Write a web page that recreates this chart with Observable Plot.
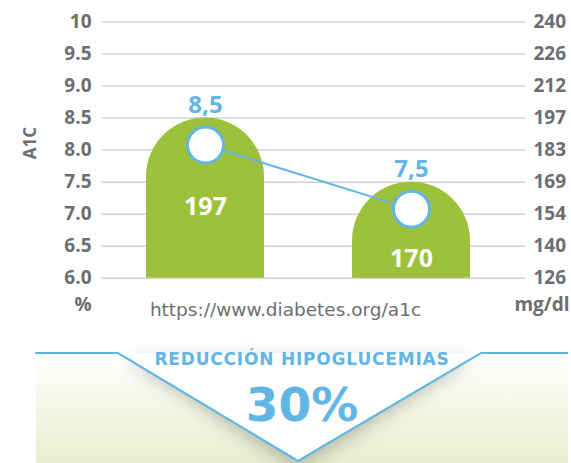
<!DOCTYPE html>
<html><head><meta charset="utf-8">
<script src="https://cdn.jsdelivr.net/npm/d3@7"></script>
<script src="https://cdn.jsdelivr.net/npm/@observablehq/plot@0.6"></script>
<style>
body{margin:0;background:#fff;}
#chart{width:571px;}
#chart svg{display:block;}
</style></head><body><div id="chart"></div>
<script>
// ---- data ----
const groups = ["antes", "después"];
const a1c = [8.5, 7.5];
const a1cLabels = ["8,5", "7,5"];
const mgValues = ["197", "170"];
const a1cTicks = [6.0, 6.5, 7.0, 7.5, 8.0, 8.5, 9.0, 9.5, 10];
const a1cTickLabels = ["6.0", "6.5", "7.0", "7.5", "8.0", "8.5", "9.0", "9.5", "10"];
const mgTickLabels = ["126", "140", "154", "169", "183", "197", "212", "226", "240"];
const leftUnit = "%";
const rightUnit = "mg/dl";
const leftTitle = "A1C";
const source = "https://www.diabetes.org/a1c";
const reductionTitle = "REDUCCIÓN HIPOGLUCEMIAS";
const reductionValue = "30%";

const data = groups.map((g, i) => ({group: g, a1c: a1c[i], label: a1cLabels[i], mg: mgValues[i]}));

const green = "#9dc13a", blue = "#62b6e5", gray = "#6d6e70";
const font = "'Open Sans', sans-serif";

const plot = Plot.plot({
  width: 571, height: 330,
  marginLeft: 102, marginRight: 46, marginTop: 21.5, marginBottom: 52.3,
  x: {domain: groups, paddingInner: 0.427, paddingOuter: 0.24, align: 0.444, axis: null},
  y: {domain: [6, 10], axis: null},
  style: {fontFamily: font, background: "white", overflow: "visible"},
  marks: [
    Plot.ruleY(a1cTicks, {stroke: "#d2d2d2", strokeWidth: 1.5}),
    Plot.axisY({ticks: a1cTicks, anchor: "left", tickSize: 0, tickPadding: 11, label: null,
      tickFormat: d => a1cTickLabels[a1cTicks.indexOf(d)], fontSize: 19, fontWeight: 700, fill: gray}),
    Plot.axisY({ticks: a1cTicks, anchor: "right", tickSize: 0, tickPadding: 8, label: null,
      tickFormat: d => mgTickLabels[a1cTicks.indexOf(d)], fontSize: 19, fontWeight: 700, fill: gray}),
    // rounded dome part
    Plot.barY(data, {x: "group", y1: d => d.a1c - 2, y2: "a1c", fill: green, rx: 59, clip: true}),
    // square lower part
    Plot.barY(data, {x: "group", y1: 6, y2: d => d.a1c - 1, fill: green}),
    Plot.line(data, {x: "group", y: "a1c", dy: 27, stroke: blue, strokeWidth: 2}),
    Plot.dot(data, {x: "group", y: "a1c", dy: 27, r: 18, fill: "white", stroke: blue, strokeWidth: 3}),
    Plot.text(data, {x: "group", y: "a1c", text: "label", dy: -13, fill: blue, fontSize: 24, fontWeight: 700}),
    Plot.text(data.slice(0, 1), {x: "group", y: "a1c", text: "mg", dy: 89, fill: "white", fontSize: 25, fontWeight: 700}),
    Plot.text(data.slice(1), {x: "group", y: "a1c", text: "mg", dy: 77, fill: "white", fontSize: 25, fontWeight: 700}),
    Plot.text([leftUnit], {text: d => d, frameAnchor: "bottom-left", lineAnchor: "middle", dx: -11, dy: 27, textAnchor: "end", fill: gray, fontSize: 19, fontWeight: 700}),
    Plot.text([rightUnit], {text: d => d, frameAnchor: "bottom-right", lineAnchor: "middle", dx: 44, dy: 27, textAnchor: "end", fill: gray, fontSize: 19, fontWeight: 700}),
    Plot.text([source], {text: d => d, frameAnchor: "bottom", lineAnchor: "middle", textAnchor: "middle", dx: -28.5, dy: 32, fill: gray, fontSize: 18.5, fontFamily: "'DejaVu Sans', sans-serif", fontWeight: 400, letterSpacing: "0.3px"}),
    Plot.text([leftTitle], {text: d => d, frameAnchor: "left", lineAnchor: "middle", textAnchor: "middle", dx: -72, dy: -7, rotate: -90, fill: gray, fontSize: 17, fontWeight: 700})
  ]
});
document.getElementById("chart").append(plot);

// ---- banner ----
const B = d3.create("svg").attr("width", 571).attr("height", 133).attr("viewBox", "0 0 571 133")
  .style("display", "block").style("font-family", font);
const defs = B.append("defs");
const lg = defs.append("linearGradient").attr("id", "bg").attr("x1", 0).attr("y1", 0).attr("x2", 0).attr("y2", 1);
lg.append("stop").attr("offset", "0%").attr("stop-color", "#ffffff");
lg.append("stop").attr("offset", "100%").attr("stop-color", "#e7efcf");
defs.append("filter").attr("id", "blur").attr("x", "-20%").attr("y", "-30%").attr("width", "140%").attr("height", "180%")
  .append("feGaussianBlur").attr("stdDeviation", 9);
B.append("rect").attr("x", 36).attr("y", 23).attr("width", 532).attr("height", 110).attr("fill", "url(#bg)");
B.append("polygon").attr("points", "128,30 298,140 471,30").attr("fill", "#8a8a7c").attr("opacity", 0.55).attr("filter", "url(#blur)");
B.append("polygon").attr("points", "118,23 298,131 481,23").attr("fill", "#ffffff");
B.append("polyline").attr("points", "35,23 118,23 298,131 481,23 568,23").attr("fill", "none").attr("stroke", blue).attr("stroke-width", 2.2);
B.append("text").attr("x", 302).attr("y", 35).attr("text-anchor", "middle").attr("fill", blue)
  .attr("font-size", 17).attr("font-weight", 700).attr("letter-spacing", "0.8px").attr("font-family", "'DejaVu Sans', sans-serif").text(reductionTitle);
B.append("text").attr("x", 302).attr("y", 91).attr("text-anchor", "middle").attr("fill", blue)
  .attr("font-size", 47).attr("font-weight", 700).attr("font-family", "'DejaVu Sans', sans-serif").text(reductionValue);
document.getElementById("chart").append(B.node());
</script></body></html>
